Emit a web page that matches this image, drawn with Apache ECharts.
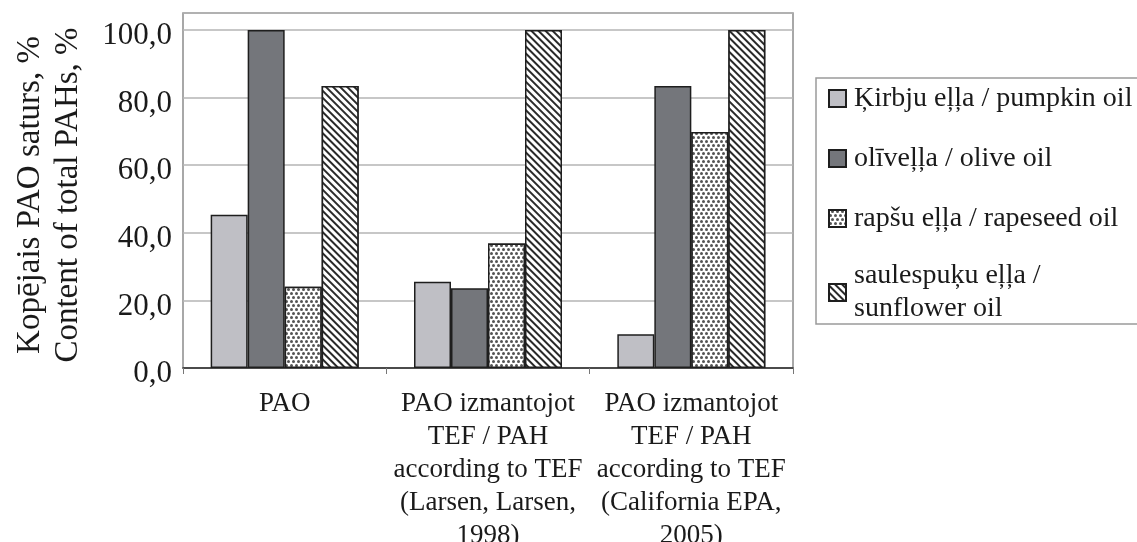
<!DOCTYPE html>
<html>
<head>
<meta charset="utf-8">
<script src="https://cdn.jsdelivr.net/npm/echarts@6/dist/echarts.min.js"></script>
<style>
  html, body { margin: 0; padding: 0; background: #fff; }
  #chart { width: 1137px; height: 542px; }
</style>
</head>
<body>
<div id="chart"></div>
<script>
// Categories along the x axis
const categories = [
  'PAO',
  'PAO izmantojot\nTEF / PAH\naccording to TEF\n(Larsen, Larsen,\n1998)',
  'PAO izmantojot\nTEF / PAH\naccording to TEF\n(California EPA,\n2005)'
];

// Oil names shown in the legend
const seriesNames = [
  'Ķirbju eļļa / pumpkin oil',
  'olīveļļa / olive oil',
  'rapšu eļļa / rapeseed oil',
  'saulespuķu eļļa /\nsunflower oil'
];

// Share of total PAHs, %
const pumpkin = [45.3, 25.5, 10.0];
const olive = [100.0, 23.6, 83.4];
const rapeseed = [24.0, 36.8, 69.8];
const sunflower = [83.4, 100.0, 100.0];

const yTicks = [0, 20, 40, 60, 80, 100];

const FONT = "'Liberation Serif', 'Times New Roman', serif";
const TEXT = '#1a1a1a';

const chart = echarts.init(document.getElementById('chart'), null, { renderer: 'canvas' });

const border = { borderColor: '#1e1e1e', borderWidth: 1.5 };

const dotsDecal = {
  symbol: 'circle',
  symbolSize: 1,
  color: '#555555',
  backgroundColor: '#ffffff',
  dashArrayX: [[2.2, 1.8], [0, 2, 2.2, -0.2]],
  dashArrayY: [2.2, 0.8]
};

const stripeDecal = {
  symbol: 'rect',
  symbolSize: 1,
  color: '#2a2a2a',
  backgroundColor: '#ffffff',
  dashArrayX: [1, 0],
  dashArrayY: [2, 2.4],
  rotation: Math.PI / 4
};

const option = {
  animation: false,
  backgroundColor: '#ffffff',
  textStyle: { fontFamily: FONT, color: TEXT },
  grid: {
    left: 183, right: 344, top: 13, bottom: 174,
    show: true, borderColor: '#8c8c8c', borderWidth: 1.5,
    containLabel: false,
    outerBoundsMode: 'none'
  },
  legend: {
    orient: 'vertical',
    left: 816,
    top: 78,
    icon: 'rect',
    itemWidth: 17,
    itemHeight: 17,
    itemGap: 27,
    padding: [4, 8, 1, 12],
    borderColor: '#9a9a9a',
    borderWidth: 1.5,
    selectedMode: false,
    textStyle: { fontFamily: FONT, fontSize: 28, lineHeight: 33, color: TEXT, padding: [0, 0, 0, 3] },
    data: [
      { name: seriesNames[0] },
      { name: seriesNames[1] },
      { name: seriesNames[2] },
      { name: seriesNames[3], textStyle: { padding: [0, 0, -33, 3] } }
    ]
  },
  xAxis: {
    type: 'category',
    data: categories,
    axisLine: { show: true, lineStyle: { color: '#2a2a2a', width: 1.5 } },
    axisTick: { show: true, length: 6, lineStyle: { color: '#777', width: 1 } },
    axisLabel: {
      interval: 0, margin: 19,
      fontFamily: FONT, fontSize: 27, lineHeight: 33, color: TEXT
    }
  },
  yAxis: {
    type: 'value',
    min: 0,
    max: 105,
    interval: 20,
    name: 'Kopējais PAO saturs, %\nContent of total PAHs, %',
    nameLocation: 'middle',
    nameGap: 96,
    nameTextStyle: { fontFamily: FONT, fontSize: 33, lineHeight: 38, color: TEXT, padding: [0, 9, 0, 0] },
    axisLine: { show: false },
    axisTick: { show: false },
    splitLine: { lineStyle: { color: '#b4b4b4', width: 1.5 } },
    axisLabel: {
      margin: 11,
      fontFamily: FONT, fontSize: 31, color: TEXT,
      formatter: v => yTicks.includes(v) ? '{v|' + v.toFixed(1).replace('.', ',') + '}' : '',
      rich: {
        v: { fontFamily: FONT, fontSize: 31, color: TEXT, padding: [12, 0, 0, 0] }
      }
    }
  },
  series: [
    {
      name: seriesNames[0], type: 'bar', data: pumpkin,
      barWidth: 37, barGap: '0%',
      itemStyle: Object.assign({ color: '#bfbfc5' }, border)
    },
    {
      name: seriesNames[1], type: 'bar', data: olive,
      barWidth: 37, barGap: '0%',
      itemStyle: Object.assign({ color: '#74767b' }, border)
    },
    {
      name: seriesNames[2], type: 'bar', data: rapeseed,
      barWidth: 37, barGap: '0%',
      itemStyle: Object.assign({ color: '#ffffff', decal: dotsDecal }, border)
    },
    {
      name: seriesNames[3], type: 'bar', data: sunflower,
      barWidth: 37, barGap: '0%',
      itemStyle: Object.assign({ color: '#ffffff', decal: stripeDecal }, border)
    }
  ]
};

chart.setOption(option);
</script>
</body>
</html>
